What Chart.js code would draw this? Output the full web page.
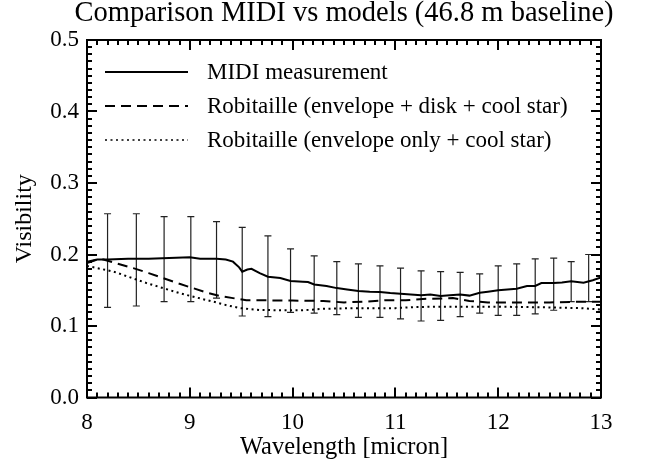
<!DOCTYPE html>
<html>
<head>
<meta charset="utf-8">
<script src="https://cdn.jsdelivr.net/npm/chart.js@4"></script>
<style>
 html, body { margin: 0; padding: 0; background: #fff; }
</style>
</head>
<body>
<canvas id="visChart" width="653" height="464"></canvas>
<script>
// MIDI measurement (wavelength in micron, visibility)
const midiWave = [8.00, 8.10, 8.20, 8.40, 8.60, 8.80, 9.00, 9.10, 9.26, 9.35, 9.42, 9.48, 9.51, 9.56, 9.60, 9.68,
  9.76, 9.88, 9.98, 10.10, 10.15, 10.21, 10.33, 10.43, 10.53, 10.64, 10.75, 10.85, 10.95, 11.05, 11.15, 11.25,
  11.34, 11.44, 11.53, 11.63, 11.72, 11.82, 11.90, 12.00, 12.09, 12.18, 12.28, 12.36, 12.42, 12.54, 12.62,
  12.71, 12.83, 12.92, 13.00];
const midiVis = [0.190, 0.193, 0.193, 0.194, 0.194, 0.195, 0.196, 0.194, 0.194, 0.193, 0.190, 0.182, 0.176, 0.179, 0.180, 0.174,
  0.169, 0.167, 0.163, 0.162, 0.1615, 0.158, 0.156, 0.153, 0.151, 0.149, 0.148, 0.1475, 0.146, 0.145, 0.144, 0.143,
  0.144, 0.142, 0.143, 0.144, 0.1425, 0.1466, 0.148, 0.150, 0.151, 0.152, 0.156, 0.156, 0.160, 0.160, 0.161,
  0.1625, 0.1606, 0.164, 0.168];

// error bars of the measurement
const errWave = [8.20, 8.48, 8.75, 9.01, 9.26, 9.51, 9.76, 9.98, 10.21, 10.43, 10.64, 10.85, 11.05, 11.25,
  11.44, 11.63, 11.82, 12.00, 12.18, 12.36, 12.54, 12.71, 12.88];
const errHigh = [0.257, 0.257, 0.253, 0.253, 0.246, 0.238, 0.226, 0.208, 0.198, 0.190, 0.187, 0.184, 0.181, 0.177,
  0.176, 0.175, 0.173, 0.184, 0.187, 0.194, 0.195, 0.190, 0.200];
const errLow = [0.126, 0.128, 0.134, 0.134, 0.139, 0.114, 0.113, 0.119, 0.118, 0.116, 0.112, 0.112, 0.110, 0.107,
  0.108, 0.113, 0.118, 0.115, 0.115, 0.117, 0.122, 0.134, 0.134];

// Robitaille (envelope + disk + cool star)
const diskWave = [8.00, 8.10, 8.16, 8.30, 8.45, 8.60, 8.74, 8.90, 9.03, 9.16, 9.29, 9.42, 9.55, 9.70, 10.00, 10.30,
  10.50, 10.70, 10.90, 11.10, 11.30, 11.56, 11.72, 11.90, 12.20, 12.50, 12.80, 13.00];
const diskVis = [0.188, 0.193, 0.193, 0.187, 0.181, 0.174, 0.167, 0.159, 0.153, 0.147, 0.142, 0.139, 0.136, 0.136, 0.1355, 0.135,
  0.133, 0.134, 0.136, 0.136, 0.138, 0.139, 0.135, 0.133, 0.133, 0.133, 0.134, 0.134];

// Robitaille (envelope only + cool star)
const envWave = [8.00, 8.26, 8.42, 8.58, 8.74, 8.90, 9.06, 9.23, 9.36, 9.49, 9.68, 9.90, 10.10, 10.30, 10.60, 11.00,
  11.20, 11.50, 12.00, 12.50, 12.80, 13.00];
const envVis = [0.184, 0.176, 0.168, 0.160, 0.153, 0.146, 0.140, 0.134, 0.129, 0.125, 0.1224, 0.122, 0.122, 0.124, 0.125, 0.125,
  0.1266, 0.127, 0.127, 0.126, 0.125, 0.123];

const seriesLabels = ["MIDI measurement", "Robitaille (envelope + disk + cool star)", "Robitaille (envelope only + cool star)"];
const chartTitle = "Comparison MIDI vs models (46.8 m baseline)";

const FONT = "'Liberation Serif', 'DejaVu Serif', serif";
Chart.defaults.color = "#000";
Chart.defaults.font.family = FONT;

const toPoints = (xs, ys) => xs.map((x, i) => ({ x: x, y: ys[i] }));

// 枠・内向き目盛り・エラーバー・凡例・タイトル
const idlFrame = {
 id: "idlFrame",
 beforeDatasetsDraw(chart) {
  const { ctx, scales: { x, y } } = chart;
  ctx.save();
  ctx.strokeStyle = "#222";
  ctx.lineWidth = 1.2;
  errWave.forEach((w, i) => {
   const px = x.getPixelForValue(w);
   const top = y.getPixelForValue(errHigh[i]);
   const bot = y.getPixelForValue(errLow[i]);
   ctx.beginPath();
   ctx.moveTo(px, top); ctx.lineTo(px, bot);
   ctx.moveTo(px - 3.5, top); ctx.lineTo(px + 3.5, top);
   ctx.moveTo(px - 3.5, bot); ctx.lineTo(px + 3.5, bot);
   ctx.stroke();
  });
  ctx.restore();
 },
 afterDraw(chart) {
  const { ctx, chartArea: a, scales: { x, y } } = chart;
  ctx.save();
  ctx.strokeStyle = "#000";
  ctx.lineWidth = 2;
  ctx.strokeRect(a.left, a.top, a.right - a.left, a.bottom - a.top);
  ctx.beginPath();
  for (let i = 0; i <= 50; i++) {
   const px = Math.round(x.getPixelForValue(8 + i / 10));
   const len = i % 10 === 0 ? 10 : 5;
   ctx.moveTo(px, a.bottom); ctx.lineTo(px, a.bottom - len);
   ctx.moveTo(px, a.top); ctx.lineTo(px, a.top + len);
  }
  for (let i = 0; i <= 50; i++) {
   const py = Math.round(y.getPixelForValue(i / 100));
   const len = i % 10 === 0 ? 10 : 5;
   ctx.moveTo(a.left, py); ctx.lineTo(a.left + len, py);
   ctx.moveTo(a.right, py); ctx.lineTo(a.right - len, py);
  }
  ctx.stroke();

  ctx.fillStyle = "#000";
  ctx.textBaseline = "middle";

  // タイトル (プロット枠の中央)
  ctx.font = "28.5px " + FONT;
  ctx.textAlign = "center";
  ctx.fillText(chartTitle, (a.left + a.right) / 2, 14);

  // 凡例
  ctx.font = "23px " + FONT;
  ctx.textAlign = "left";
  chart.data.datasets.forEach((ds, k) => {
   const ly = 72 + 34 * k;
   ctx.beginPath();
   ctx.setLineDash(ds.borderDash || []);
   ctx.lineWidth = k === 2 ? 1.5 : 2;
   ctx.moveTo(105, ly); ctx.lineTo(188, ly);
   ctx.stroke();
   ctx.setLineDash([]);
   ctx.fillText(ds.label, 207, ly + 1);
  });
  ctx.restore();
 }
};

const config = {
 type: "line",
 data: {
  datasets: [
   { label: seriesLabels[0], data: toPoints(midiWave, midiVis), borderColor: "#000", borderWidth: 2, pointRadius: 0 },
   { label: seriesLabels[1], data: toPoints(diskWave, diskVis), borderColor: "#000", borderWidth: 2, borderDash: [10, 6], pointRadius: 0 },
   { label: seriesLabels[2], data: toPoints(envWave, envVis), borderColor: "#000", borderWidth: 2, borderDash: [2, 3.5], pointRadius: 0 }
  ]
 },
 options: {
  responsive: false,
  animation: false,
  layout: { padding: { left: 0, right: 52, top: 40, bottom: 0 } },
  plugins: {
   legend: { display: false },
   tooltip: { enabled: false },
   title: { display: false }
  },
  scales: {
   x: {
    type: "linear",
    min: 8,
    max: 13,
    grid: { display: false, drawTicks: false },
    border: { display: false },
    ticks: { stepSize: 1, padding: 12, font: { size: 23 }, callback: v => String(v) },
    title: { display: true, text: "Wavelength [micron]", font: { size: 24.5 }, padding: { top: 0, bottom: 2 } },
    afterFit: s => { s.height = 66.5; }
   },
   y: {
    min: 0,
    max: 0.5,
    grid: { display: false, drawTicks: false },
    border: { display: false },
    ticks: { stepSize: 0.1, padding: 8, font: { size: 23 }, callback: v => v.toFixed(1) },
    title: { display: true, text: "Visibility", font: { size: 24 }, padding: { top: 10, bottom: 0 } },
    afterFit: s => { s.width = 87; }
   }
  }
 },
 plugins: [idlFrame]
};

const visChart = new Chart(document.getElementById("visChart"), config);
</script>
</body>
</html>
